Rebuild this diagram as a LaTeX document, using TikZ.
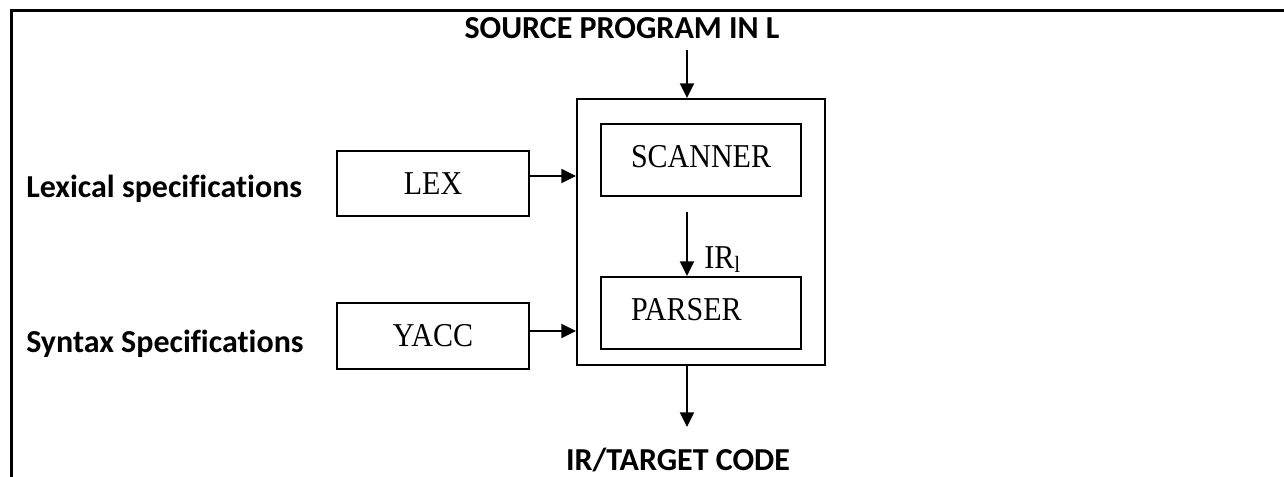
\documentclass[tikz,border=0pt]{standalone}
\usepackage{fontspec}
\setmainfont{Liberation Serif}
\newfontfamily\boxfont{Liberation Serif}[FakeStretch=0.9]
\newfontfamily\lblfont{Carlito}[Ligatures=NoCommon]
\usepackage{tikz}
\usetikzlibrary{arrows.meta,positioning}

\begin{document}
\begin{tikzpicture}[x=0.75pt,y=-0.75pt,
    box/.style={draw,line width=1.5pt,inner sep=0pt,font=\boxfont\fontsize{25}{30}\selectfont},
    inbox/.style={box,minimum height=54pt,text width=105pt,inner xsep=22.5pt,align=left,text depth=6pt},
    lbl/.style={inner sep=0pt,font=\lblfont\bfseries\fontsize{24}{29}\selectfont},
    arr/.style={-{Triangle[length=11pt,width=10.5pt]},line width=1.5pt}]
    \useasboundingbox (0,0) rectangle (1284,477);
    \draw[line width=2.25pt] (11,477) -- (11,11) -- (1284,11);

    % the generated compiler
    \node[box,minimum width=186pt,minimum height=199.5pt] (gen) at (701,232) {};
    \node[inbox] (scan) at (701,160.5) {SCANNER};
    \node[inbox] (pars) at (701,313) {PARSER};
    \node[anchor=base west,inner sep=0pt,font=\boxfont\fontsize{25}{30}\selectfont] (ir) at (704,268) {IR\textsubscript{l}};

    % generators
    \node[box,minimum width=144pt,minimum height=48.75pt] (lex) at (433,183.5) {LEX};
    \node[box,minimum width=144pt,minimum height=49.5pt] (yacc) at (433,336) {YACC};

    % labels
    \node[lbl,anchor=base] (src) at (622,39) {SOURCE PROGRAM IN L};
    \node[lbl,anchor=base] (out) at (678,470) {IR/TARGET CODE};
    \node[lbl,anchor=base west] (lexspec) at (26,198) {Lexical specifications};
    \node[lbl,anchor=base west] (synspec) at (26,352) {Syntax Specifications};

    \coordinate (srcend) at (687,50);
    \coordinate (midtop) at (687,212);
    \coordinate (outend) at (687,427);
    \draw[arr] (srcend) -- (srcend |- gen.north);
    \draw[arr] ([yshift=5.6pt]lex.east) -- ([yshift=5.6pt]lex.east -| gen.west);
    \draw[arr] ([yshift=3.75pt]yacc.east) -- ([yshift=3.75pt]yacc.east -| gen.west);
    \draw[arr] (midtop) -- (midtop |- pars.north);
    \draw[arr] (outend |- gen.south) -- (outend);
\end{tikzpicture}
\end{document}
